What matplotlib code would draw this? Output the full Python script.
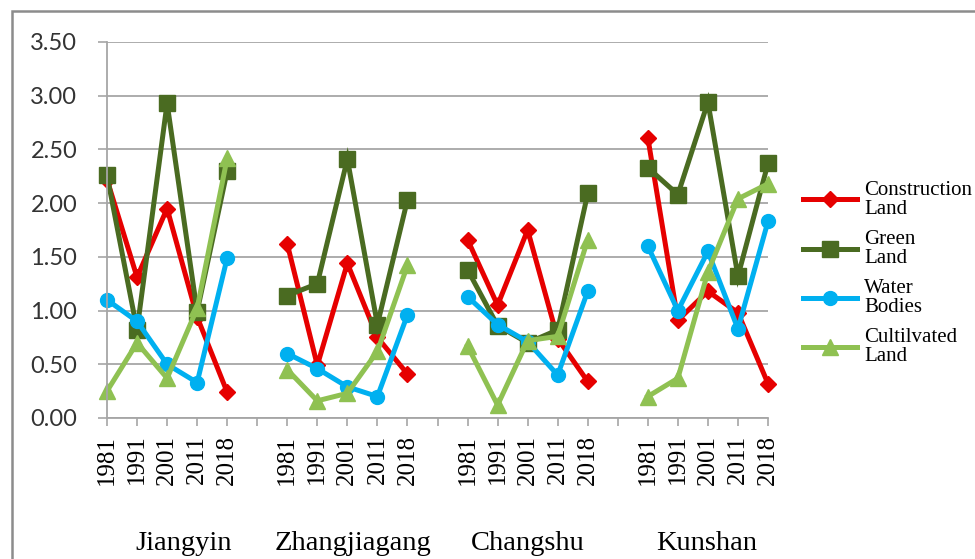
import matplotlib.pyplot as plt
import numpy as np
from matplotlib.patches import Rectangle

towns = ['Jiangyin', 'Zhangjiagang', 'Changshu', 'Kunshan']
years = ['1981', '1991', '2001', '2011', '2018']

# index values, 5 years per town in the order of `towns`
construction = [2.22, 1.31, 1.95, 0.94, 0.24,
                1.62, 0.49, 1.44, 0.75, 0.41,
                1.66, 1.05, 1.75, 0.74, 0.34,
                2.61, 0.91, 1.18, 0.98, 0.32]
green = [2.26, 0.82, 2.93, 0.99, 2.30,
         1.14, 1.25, 2.41, 0.87, 2.03,
         1.38, 0.86, 0.70, 0.82, 2.09,
         2.33, 2.08, 2.94, 1.32, 2.37]
water = [1.10, 0.90, 0.50, 0.33, 1.49,
         0.60, 0.46, 0.29, 0.20, 0.96,
         1.13, 0.87, 0.71, 0.40, 1.18,
         1.60, 1.00, 1.55, 0.83, 1.83]
cultivated = [0.25, 0.70, 0.37, 1.02, 2.42,
              0.45, 0.16, 0.23, 0.62, 1.42,
              0.67, 0.12, 0.72, 0.76, 1.66,
              0.20, 0.37, 1.36, 2.04, 2.18]

series = [
    ('Construction\nLand', construction, '#e60000', 'D', 8.5),
    ('Green\nLand', green, '#4a6b21', 's', 11),
    ('Water\nBodies', water, '#00b0f0', 'o', 10),
    ('Cultilvated\nLand', cultivated, '#8fc152', '^', 11),
]

SERIF = 'Liberation Serif'
GRID = '#a6a6a6'
nyears = len(years)
slot = nyears + 1  # one empty category between towns


def with_gaps(vals):
    '''spread values over the category axis, NaN in the blank slots'''
    out = np.full(slot * len(towns) - 1, np.nan)
    for i, t in enumerate(towns):
        out[i * slot:i * slot + nyears] = vals[i * nyears:(i + 1) * nyears]
    return out


fig = plt.figure(figsize=(9.75, 5.59), dpi=100)
ax = fig.add_axes([107 / 975, 1 - 418 / 559, (768 - 107) / 975, (418 - 42) / 559])

xs = np.arange(slot * len(towns) - 1)
for label, vals, c, m, ms in series:
    ax.plot(xs, with_gaps(vals), color=c, lw=3.6, marker=m, markersize=ms,
            label=label, solid_joinstyle='miter', clip_on=False)

ax.set_xlim(0, xs[-1])
ax.set_ylim(0, 3.5)

xlabels = []
for i in range(len(towns)):
    xlabels += years
    if i < len(towns) - 1:
        xlabels.append('')
ax.set_xticks(xs)
ax.set_xticklabels(xlabels, rotation=90, family=SERIF, fontsize=18)
ax.set_yticks(np.arange(0, 3.51, 0.5))
ax.set_yticklabels([f'{v:.2f}' for v in np.arange(0, 3.51, 0.5)],
                   family='Lato', fontsize=17, color='#333333')

ax.tick_params(axis='x', direction='out', length=6, width=1.2, color=GRID, pad=6)
ax.tick_params(axis='y', direction='out', length=6.5, width=1.2, color=GRID, pad=15)
ax.yaxis.grid(True, color=GRID, lw=1.3)
ax.set_axisbelow(True)
for s in ['top', 'right']:
    ax.spines[s].set_visible(False)
for s in ['left', 'bottom']:
    ax.spines[s].set_color(GRID)
    ax.spines[s].set_linewidth(1.3)

# town names under each group of years
town_x = [2.56, 8.2, 14.0, 19.97]
for t, x in zip(towns, town_x):
    ax.text(x, -0.335, t, transform=ax.get_xaxis_transform(), ha='center',
            va='center', family=SERIF, fontsize=20.5)

leg = ax.legend(loc='upper left', bbox_to_anchor=(803 / 975, 1 - 181 / 559),
                bbox_transform=fig.transFigure, frameon=False,
                prop={'family': SERIF, 'size': 15}, handlelength=2.6,
                handletextpad=0.35, labelspacing=0.55, borderpad=0,
                borderaxespad=0)
for t in leg.get_texts():
    t.set_linespacing(0.97)
    t.set_multialignment('left')

# chart area border
fig.add_artist(Rectangle((12 / 975, -0.5), 2, 0.5 + 1 - 11 / 559,
                         transform=fig.transFigure, fill=False,
                         edgecolor='#8c8c8c', lw=1.8))

fig.savefig('out.png', dpi=100, facecolor='white')
